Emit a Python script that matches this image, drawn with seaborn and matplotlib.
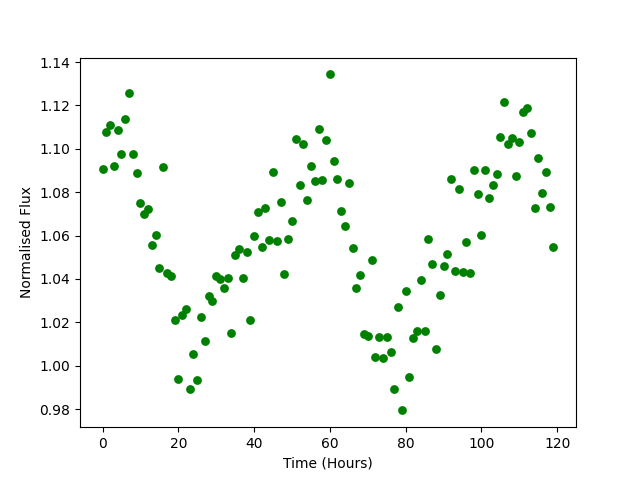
import matplotlib
matplotlib.use("Agg")
import matplotlib.pyplot as plt
import seaborn as sns
import numpy as np
import pandas as pd

hours = list(range(120))
flux = [
    1.0905, 1.1076, 1.1108, 1.0920, 1.1085, 1.0974, 1.1136, 1.1256, 1.0974, 1.0887,
    1.0749, 1.0698, 1.0721, 1.0555, 1.0601, 1.0450, 1.0915, 1.0426, 1.0412, 1.0209,
    0.9937, 1.0232, 1.0260, 0.9892, 1.0052, 0.9933, 1.0223, 1.0112, 1.0320, 1.0297,
    1.0412, 1.0398, 1.0357, 1.0403, 1.0149, 1.0509, 1.0537, 1.0403, 1.0523, 1.0209,
    1.0596, 1.0707, 1.0546, 1.0725, 1.0578, 1.0891, 1.0573, 1.0753, 1.0421, 1.0583,
    1.0666, 1.1044, 1.0832, 1.1021, 1.0762, 1.0919, 1.0850, 1.1090, 1.0855, 1.1039,
    1.1343, 1.0942, 1.0859, 1.0712, 1.0643, 1.0841, 1.0541, 1.0357, 1.0417, 1.0145,
    1.0136, 1.0486, 1.0038, 1.0131, 1.0034, 1.0131, 1.0062, 0.9892, 1.0269, 0.9794,
    1.0343, 0.9946, 1.0126, 1.0158, 1.0393, 1.0158, 1.0583, 1.0470, 1.0075, 1.0324,
    1.0458, 1.0513, 1.0859, 1.0435, 1.0813, 1.0430, 1.0569, 1.0426, 1.0901, 1.0790,
    1.0601, 1.0901, 1.0772, 1.0832, 1.0882, 1.1053, 1.1214, 1.1021, 1.1048, 1.0873,
    1.1030, 1.1168, 1.1187, 1.1071, 1.0725, 1.0956, 1.0795, 1.0891, 1.0730, 1.0546,
]

df = pd.DataFrame({"Time (Hours)": hours, "Normalised Flux": flux})

fig, ax = plt.subplots(figsize=(6.4, 4.8), dpi=100)
sns.scatterplot(data=df, x="Time (Hours)", y="Normalised Flux", color="green",
                s=40, linewidth=0, ax=ax)
ax.set_xlabel("Time (Hours)")
ax.set_ylabel("Normalised Flux")
fig.savefig("out.png", dpi=100)
